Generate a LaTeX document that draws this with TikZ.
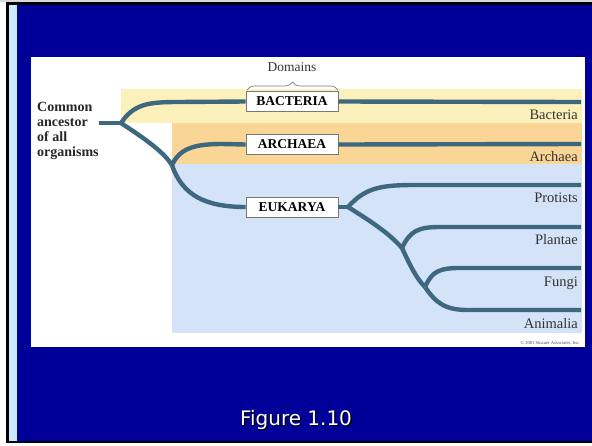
\documentclass[tikz,border=0pt]{standalone}
\usepackage{fontspec}
\setmainfont{Liberation Serif}
\newfontfamily\figfont{DejaVu Sans}
\usetikzlibrary{decorations.pathreplacing}
\definecolor{navy}{RGB}{0,0,153}
\definecolor{strip}{RGB}{204,234,255}
\definecolor{bandY}{RGB}{253,241,187}
\definecolor{bandO}{RGB}{250,214,150}
\definecolor{bandB}{RGB}{212,227,247}
\definecolor{branch}{RGB}{62,104,128}
\definecolor{boxline}{RGB}{120,120,120}
\tikzset{
  branchline/.style={draw=branch, line width=4.4pt, line cap=butt},
  domainbox/.style={draw=boxline, line width=0.6pt, fill=white, minimum width=92pt, minimum height=20pt, inner sep=0pt, font=\fontsize{13.5}{14}\selectfont\bfseries},
  taxon/.style={anchor=east, inner sep=0pt, font=\fontsize{14.5}{15}\selectfont, text=black!80},
}
\begin{document}
\begin{tikzpicture}[x=1pt,y=1pt]
\useasboundingbox (0,0) rectangle (592,-445);
% slide frame
\fill[white] (0,0) rectangle (592,-445);
\fill[black!15] (0,0) rectangle (592,-2);
\fill[black] (6,-2) rectangle (592,-443);
\fill[navy] (9,-5) rectangle (592,-441);
\fill[strip] (9,-5) rectangle (17,-441);
% white panel
\fill[white] (31,-57) rectangle (585,-347);
% bands
\fill[bandY] (121,-89) rectangle (582,-123);
\fill[bandO] (172,-123) rectangle (582,-164);
\fill[bandB] (172,-164) rectangle (582,-333);
% text left
\node[anchor=north west, align=left, inner sep=0pt, font=\fontsize{14}{15}\selectfont\bfseries, text=black!85] (anc) at (37,-102) {Common\\ancestor\\of all\\organisms};
% boxes
\node[domainbox] (bac) at (292,-101.5) {BACTERIA};
\node[domainbox] (arc) at (292,-144.5) {ARCHAEA};
\node[domainbox] (euk) at (292,-207) {EUKARYA};
\node[font=\fontsize{13.5}{14}\selectfont, text=black!80] (dom) at (292,-67) {Domains};
\draw[boxline, line width=0.7pt, decorate, decoration={brace, amplitude=8pt}] (247,-90) -- (338,-90);
% coordinates
\coordinate (root) at (99,-123);
\coordinate (f1) at (121,-123);
\coordinate (f2) at (172,-165);
\coordinate (f3) at (348,-207);
\coordinate (f4) at (402,-248);
\coordinate (f5) at (425,-287);
\coordinate (eB) at (581,-102);
\coordinate (eA) at (581,-144);
\coordinate (eP) at (581,-185);
\coordinate (eL) at (581,-227);
\coordinate (eF) at (581,-268);
\coordinate (eM) at (581,-310);
% branches
\path[branchline] (root) -- (f1);
\path[branchline] (f1) .. controls (134,-104) and (148,-102) .. (178,-102) -- (bac.west);
\path[branchline] (f1) .. controls (142,-137) and (162,-150) .. (f2);
\path[branchline] (f2) .. controls (182,-195) and (205,-207) .. (euk.west);
\path[branchline] (f2) .. controls (180,-148) and (195,-144) .. (222,-144) -- (arc.west);
\path[branchline] (bac.east) -- (eB);
\path[branchline] (arc.east) -- (eA);
\path[branchline] (euk.east) -- (f3);
\path[branchline] (f3) .. controls (365,-188) and (380,-185) .. (415,-185) -- (eP);
\path[branchline] (f3) .. controls (372,-222) and (390,-234) .. (f4);
\path[branchline] (f4) .. controls (410,-231) and (418,-227) .. (440,-227) -- (eL);
\path[branchline] (f4) .. controls (410,-265) and (416,-278) .. (f5);
\path[branchline] (f5) .. controls (432,-271) and (440,-268) .. (460,-268) -- (eF);
\path[branchline] (f5) .. controls (436,-303) and (445,-310) .. (468,-310) -- (eM);
% taxa labels
\node[taxon] (tB) at (578,-115) {Bacteria};
\node[taxon] (tA) at (578,-157) {Archaea};
\node[taxon] (tP) at (578,-198) {Protists};
\node[taxon] (tL) at (578,-240) {Plantae};
\node[taxon] (tF) at (578,-283) {Fungi};
\node[taxon] (tM) at (578,-324) {Animalia};
\node[anchor=east, inner sep=0pt, font=\fontsize{4.6}{5}\selectfont, text=black!70] (copy) at (580,-343) {\textcopyright{} 2001 Sinauer Associates, Inc.};
% caption
\node[font=\figfont\fontsize{20}{22}\selectfont, text=black] (capsh) at (297.3,-421.3) {Figure 1.10};
\node[font=\figfont\fontsize{20}{22}\selectfont, text=white] (cap) at (296,-420) {Figure 1.10};
\end{tikzpicture}
\end{document}
